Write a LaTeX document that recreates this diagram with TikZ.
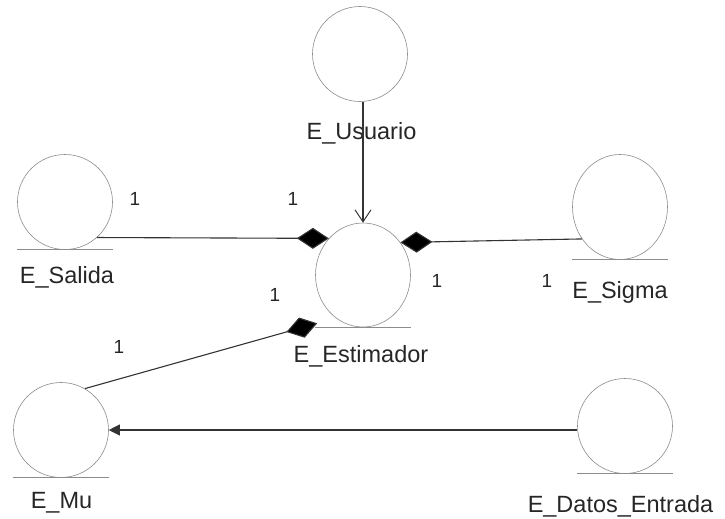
\documentclass[tikz,border=0pt]{standalone}
\usepackage{fontspec}
\setmainfont{Liberation Sans}
\usetikzlibrary{shapes.geometric,arrows.meta}
\begin{document}
\begin{tikzpicture}[x=1pt,y=-1pt,
  entity/.style={ellipse,draw=black!45,line width=0.6pt,inner sep=0pt,minimum width=95pt,minimum height=95pt},
  baseline/.style={draw=black!45,line width=0.8pt},
  lbl/.style={anchor=base,inner sep=0pt,font=\fontsize{23.5}{26}\selectfont,text=black!85},
  mult/.style={anchor=base,inner sep=0pt,font=\fontsize{19}{22}\selectfont,text=black!85},
  conn/.style={draw=black!80,line width=1.1pt},
  comp/.style={conn,-{Diamond[length=32pt,width=21pt,fill=black]}},
  dep/.style={conn,-{Straight Barb[length=12pt,width=16pt,line width=1pt]}},
  nav/.style={conn,-{Triangle[length=11pt,width=11pt]}}]
\useasboundingbox (0,0) rectangle (725,519);

% entities
\node[entity] (usu) at (360,54) {};
\node[entity] (sal) at (65,202) {};
\node[entity,minimum height=104pt] (est) at (363,275) {};
\node[entity,minimum height=105pt] (sig) at (620,207) {};
\node[entity] (mu) at (61,430) {};
\node[entity] (dat) at (625,426) {};

% base lines
\foreach \n in {sal,est,sig,mu,dat}
  \draw[baseline] (\n.south -| \n.west) -- (\n.south -| \n.east);

% names
\node[lbl] (lusu) at (361.5,139) {E\_Usuario};
\node[lbl] (lsal) at (67,283) {E\_Salida};
\node[lbl] (lest) at (361,362) {E\_Estimador};
\node[lbl] (lsig) at (620,298) {E\_Sigma};
\node[lbl] (lmu) at (61.5,508) {E\_Mu};
\node[lbl] (ldat) at (620.5,512) {E\_Datos\_Entrada};

% connectors
\draw[dep] (est.north |- usu.south) -- (est.north);
\draw[comp] (sal.-48) -- (est.133);
\draw[comp] (sig.220) -- (est.41);
\coordinate (estbl) at ([shift={(2,-4)}]est.south -| est.west);
\draw[comp] (mu.60) -- (estbl);
\draw[nav] (dat.west |- mu.east) -- (mu.east);

% multiplicities
\node[mult] (m1) at (135,205) {1};
\node[mult] (m2) at (293,205) {1};
\node[mult] (m3) at (275,301) {1};
\node[mult] (m4) at (437,287) {1};
\node[mult] (m5) at (547,287) {1};
\node[mult] (m6) at (119,353) {1};
\end{tikzpicture}
\end{document}
